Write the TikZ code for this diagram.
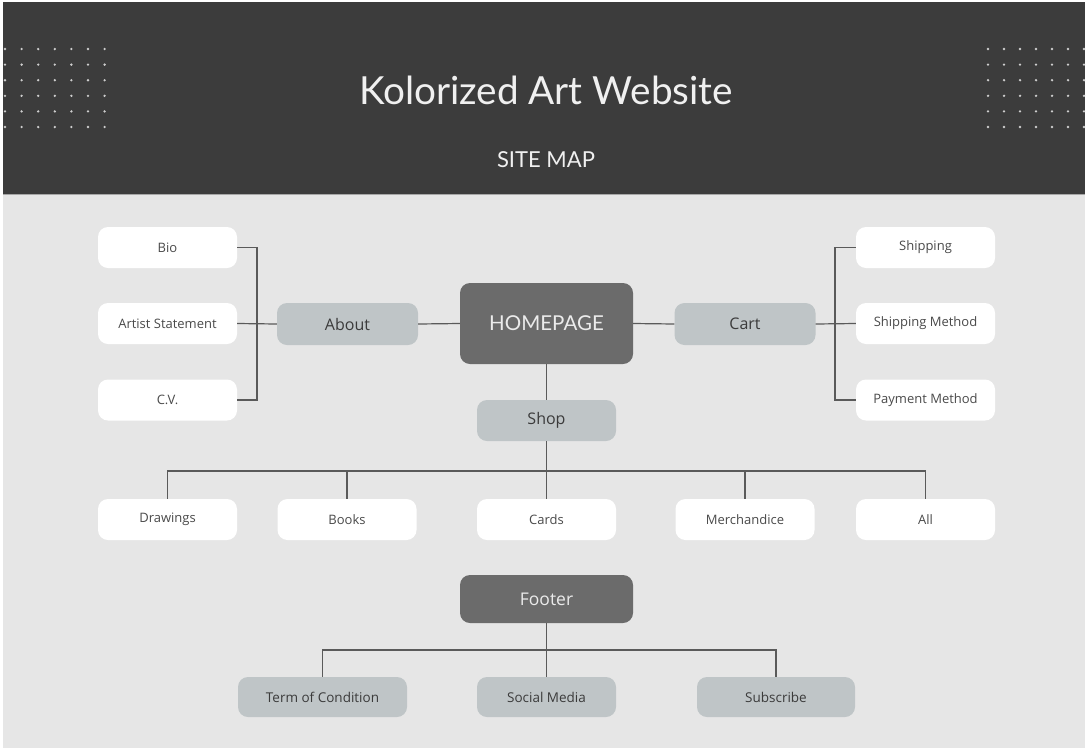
\documentclass[tikz,border=0pt]{standalone}
\usepackage{fontspec}
\setmainfont{Open Sans}
\newfontfamily\titlefont{Lato}
\usepackage{xcolor}
\usepackage{tikz}
\usetikzlibrary{calc}

\definecolor{headbg}{HTML}{3C3C3C}
\definecolor{pagebg}{HTML}{E6E6E6}
\definecolor{darkbox}{HTML}{6B6B6B}
\definecolor{greybox}{HTML}{BFC5C7}
\definecolor{linegrey}{HTML}{5A5A5A}
\definecolor{txtgrey}{HTML}{4A4A4A}

\begin{document}
\begin{tikzpicture}[x=1pt, y=-1pt,
    leaf/.style={draw=none, fill=white, rounded corners=10pt, minimum width=139pt, minimum height=41pt, inner sep=0pt, text=txtgrey, font=\fontsize{13}{15}\selectfont},
    section/.style={draw=none, fill=greybox, rounded corners=10pt, minimum width=141pt, minimum height=42pt, inner sep=0pt, text=txtgrey!80!black, font=\fontsize{16}{19}\selectfont},
    footleaf/.style={section, minimum height=40pt, font=\fontsize{13.5}{16}\selectfont},
    mainbox/.style={draw=none, fill=darkbox, rounded corners=10pt, minimum width=173pt, inner sep=0pt, text=white!92!black},
    link/.style={draw=linegrey, line width=1.2pt}
  ]
        \useasboundingbox (0,0) rectangle (1086,750);

        %LATAR
        \fill[white] (0,0) rectangle (1086,750);
        \fill[pagebg] (3,194) rectangle (1085,748);
        \fill[headbg] (3,2) rectangle (1085,194);
        \draw[gray!70, line width=1pt] (3,194) -- (1085,194);

        %TITIK
        \foreach \i in {0,...,6}{
            \foreach \j in {0,...,5}{
                \fill[white!75!headbg] (5+16.6*\i, 49+15.6*\j) circle (1.3pt);
                \fill[white!75!headbg] (988+16*\i, 49+15.6*\j) circle (1.3pt);
            }
        }

        %JUDUL
        \node[text=white!94!black, font=\titlefont\fontsize{38.7}{42}\selectfont] (title) at (546,90) {Kolorized Art Website};
        \node[text=white!94!black, font=\titlefont\fontsize{22}{26}\selectfont] (subtitle) at (546,160) {SITE MAP};

        %KOTAK UTAMA
        \node[mainbox, minimum height=81pt, font=\titlefont\fontsize{20.5}{24}\selectfont] (home) at (546.5,323.5) {HOMEPAGE};
        \node[section] (about) at (347.5,324) {About};
        \node[section] (cart) at (745,324) {Cart};
        \node[section, minimum width=139pt, minimum height=41pt] (shop) at (546.5,420.5) {Shop};
        \node[mainbox, minimum height=48pt, font=\fontsize{17.5}{20}\selectfont] (footer) at (546.5,599) {Footer};

        %ABOUT
        \node[leaf] (bio) at (167.5,247.5) {Bio};
        \node[leaf] (statement) at (167.5,323.5) {Artist Statement};
        \node[leaf] (cv) at (167.5,400) {C.V.};

        %CART
        \node[leaf] (shipping) at (925.5,247.5) {Shipping};
        \node[leaf] (shipmethod) at (925.5,323.5) {Shipping Method};
        \node[leaf] (paymethod) at (925.5,400) {Payment Method};

        %SHOP
        \node[leaf] (drawings) at (167.5,519.5) {Drawings};
        \node[leaf] (books) at (347,519.5) {Books};
        \node[leaf] (cards) at (546.5,519.5) {Cards};
        \node[leaf] (merch) at (745,519.5) {Merchandice};
        \node[leaf] (all) at (925.5,519.5) {All};

        %FOOTER
        \node[footleaf, minimum width=169pt] (terms) at (322.5,697) {Term of Condition};
        \node[footleaf, minimum width=139pt] (social) at (546.5,697) {Social Media};
        \node[footleaf, minimum width=158pt] (subscribe) at (776,697) {Subscribe};

        %GARIS
        \coordinate (aboutbus) at (257,323.5);
        \coordinate (cartbus) at (835,323.5);
        \coordinate (shopbus) at (546.5,471);
        \coordinate (footbus) at (546.5,650);

        \draw[link] (about.east) -- (home.west);
        \draw[link] (home.east) -- (cart.west);
        \draw[link] (home.south) -- (shop.north);

        \draw[link] (bio.east) -| (aboutbus) |- (cv.east);
        \draw[link] (statement.east) -- (about.west);

        \draw[link] (shipping.west) -| (cartbus) |- (paymethod.west);
        \draw[link] (cart.east) -- (shipmethod.west);

        \draw[link] (shop.south) -- (cards.north);
        \draw[link] (drawings.north) |- (shopbus) -| (all.north);
        \draw[link] (books.north) -- (books.north |- shopbus);
        \draw[link] (merch.north) -- (merch.north |- shopbus);

        \draw[link] (footer.south) -- (social.north);
        \draw[link] (terms.north) |- (footbus) -| (subscribe.north);
    \end{tikzpicture}
\end{document}
